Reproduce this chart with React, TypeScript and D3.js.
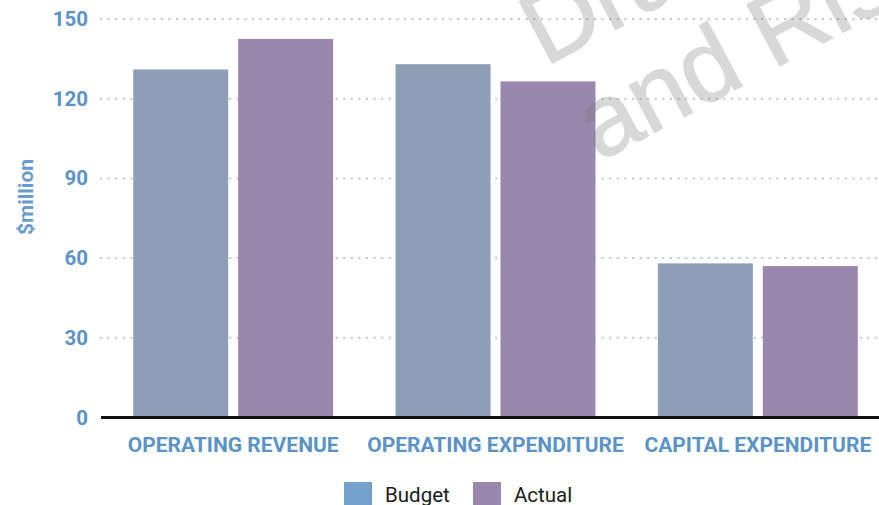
import React, { useEffect, useRef } from "react";
import * as d3 from "d3";

// Budget vs actual, $million, by category

const categories = ["OPERATING REVENUE", "OPERATING EXPENDITURE", "CAPITAL EXPENDITURE"];
const seriesNames = ["Budget", "Actual"];
const budget = [131, 133, 58];
const actual = [142.5, 126.5, 57];
const yTicks = [0, 30, 60, 90, 120, 150];

const barColors = ["#8c9fb6", "#9987ad"];
const legendColors = ["#74a0cc", "#9987ad"];
const labelBlue = "#5b93c6";

const App = () => {
    const svgRef = useRef<SVGSVGElement>(null);

    useEffect(() => {
        const width = 879;
        const height = 505;
        const margin = { top: 19, right: 0, bottom: 87.5, left: 100 };

        const svg = d3.select(svgRef.current);
        svg.selectAll("*").remove();

        const rows = categories.map((c, i) => ({ category: c, values: [budget[i], actual[i]] }));

        const x0 = d3.scaleBand()
            .domain(categories)
            .range([102, 889])
            .paddingInner(0.238)
            .paddingOuter(0.119);

        const x1 = d3.scaleBand()
            .domain(seriesNames)
            .range([0, x0.bandwidth()])
            .paddingInner(0.095);

        const y = d3.scaleLinear()
            .domain([0, 150])
            .range([height - margin.bottom, margin.top]);

        // dotted grid
        svg.append("g")
            .selectAll("line")
            .data(yTicks.filter(d => d > 0))
            .join("line")
            .attr("x1", margin.left)
            .attr("x2", width)
            .attr("y1", d => y(d))
            .attr("y2", d => y(d))
            .attr("stroke", "#b9c6d6")
            .attr("stroke-width", 2)
            .attr("stroke-dasharray", "2 5.6");

        // bars
        svg.append("g")
            .selectAll("g")
            .data(rows)
            .join("g")
            .attr("transform", d => `translate(${x0(d.category)},0)`)
            .selectAll("rect")
            .data(d => d.values.map((v, i) => ({ key: seriesNames[i], value: v, i })))
            .join("rect")
            .attr("x", d => x1(d.key)!)
            .attr("y", d => y(d.value))
            .attr("width", x1.bandwidth())
            .attr("height", d => y(0) - y(d.value))
            .attr("fill", d => barColors[d.i]);

        // baseline
        svg.append("line")
            .attr("x1", margin.left + 1)
            .attr("x2", width)
            .attr("y1", y(0))
            .attr("y2", y(0))
            .attr("stroke", "#111")
            .attr("stroke-width", 3);

        // y axis labels
        const yAxis = svg.append("g")
            .attr("transform", `translate(${margin.left},0)`)
            .call(d3.axisLeft(y).tickValues(yTicks).tickSize(0).tickPadding(12));
        yAxis.select(".domain").remove();
        yAxis.selectAll("text")
            .attr("fill", labelBlue)
            .attr("font-family", "Roboto")
            .attr("font-weight", 700)
            .attr("font-size", 20.5);

        // y title
        svg.append("text")
            .attr("transform", "translate(33,197) rotate(-90)")
            .attr("text-anchor", "middle")
            .attr("fill", "#6a9ccb")
            .attr("font-family", "Roboto")
            .attr("font-weight", 700)
            .attr("font-size", 21)
            .text("$million");

        // category labels
        svg.append("g")
            .selectAll("text")
            .data(categories)
            .join("text")
            .attr("x", d => x0(d)! + x0.bandwidth() / 2)
            .attr("y", 452)
            .attr("text-anchor", "middle")
            .attr("fill", labelBlue)
            .attr("font-family", "Roboto")
            .attr("font-weight", 700)
            .attr("font-size", 21)
            .text(d => d);

        // legend
        const legend = svg.append("g")
            .selectAll("g")
            .data(seriesNames)
            .join("g")
            .attr("transform", (d, i) => `translate(${344 + i * 129},482)`);
        legend.append("rect")
            .attr("width", 28)
            .attr("height", 23)
            .attr("fill", (d, i) => legendColors[i]);
        legend.append("text")
            .attr("x", 41)
            .attr("y", 20)
            .attr("fill", "#1a1a1a")
            .attr("font-family", "Roboto")
            .attr("font-size", 20.5)
            .text(d => d);

        // watermark (group opacity so fill and stroke blend as one)
        const wm = svg.append("g")
            .attr("opacity", 0.28)
            .attr("fill", "#777")
            .attr("stroke", "#777")
            .attr("stroke-width", 1.5)
            .attr("font-family", "Liberation Sans")
            .attr("font-size", 101);
        wm.append("text")
            .attr("transform", "translate(545,67) rotate(-28)")
            .text("Draft");
        wm.append("text")
            .attr("transform", "translate(599,162) rotate(-28)")
            .text("and Risk");
    }, []);

    return (
        <svg
            ref={svgRef}
            width={879}
            height={505}
            style={{ position: "absolute", left: 0, top: 0, background: "#fff" }}
        ></svg>
    );
};

export default App;
